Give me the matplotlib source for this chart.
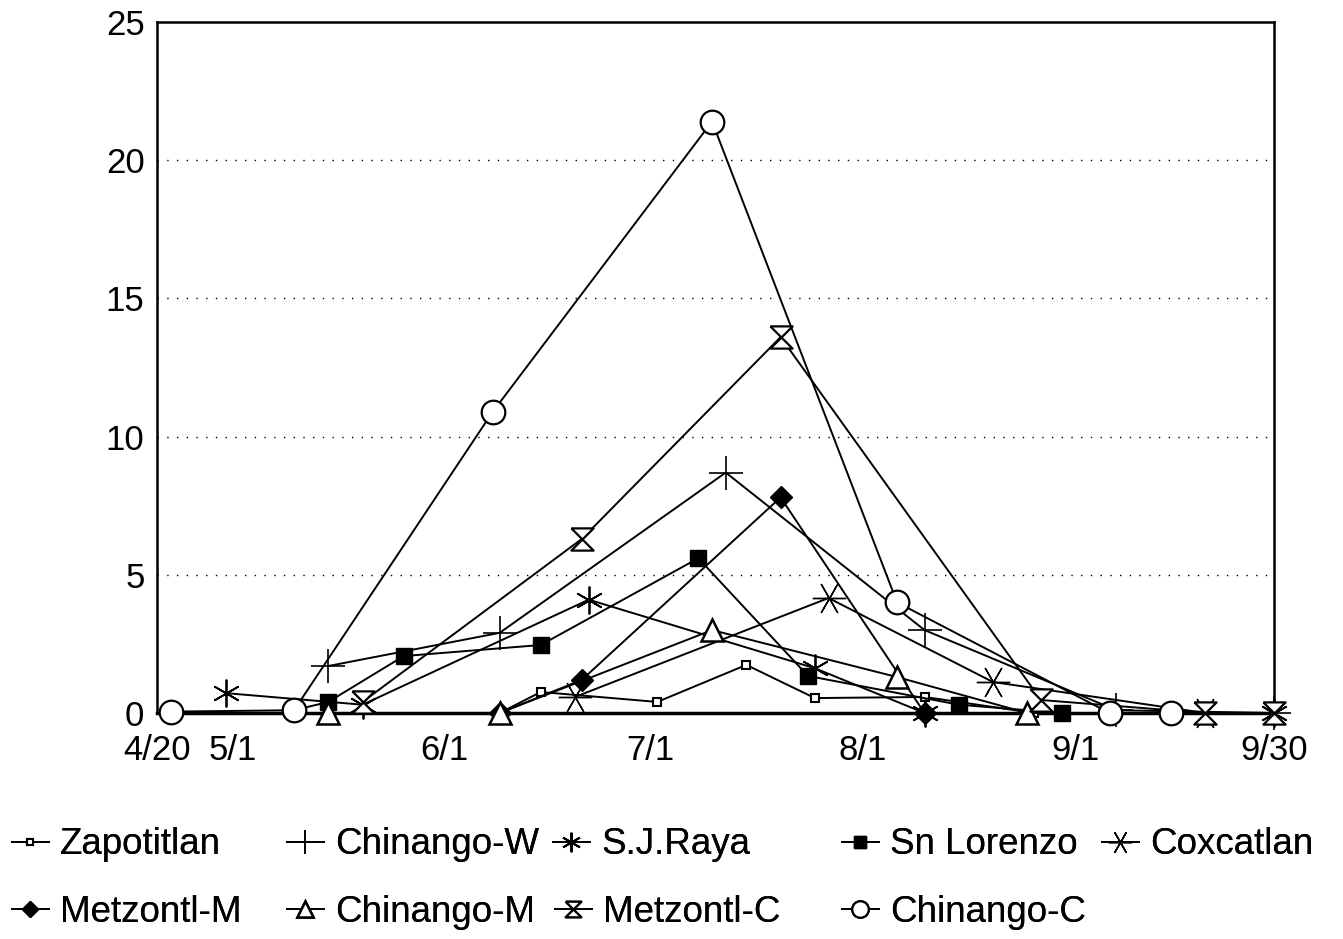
import datetime as dt
import matplotlib
matplotlib.use("Agg")
import matplotlib.pyplot as plt
from matplotlib.path import Path

plt.rcParams['font.family'] = ['Liberation Sans', 'DejaVu Sans']

# sampling dates (m/d) and counts for each site
zap_dates = ["6/9", "6/15", "7/2", "7/15", "7/25", "8/10", "8/26"]
zap_vals = [0.0, 0.76, 0.4, 1.74, 0.54, 0.58, 0.0]

chw_dates = ["5/15", "6/9", "7/12", "8/10", "9/7", "9/30"]
chw_vals = [1.7, 2.9, 8.7, 3.0, 0.1, 0.0]

sjr_dates = ["4/30", "5/20", "6/22", "7/25", "8/10", "9/30"]
sjr_vals = [0.72, 0.3, 4.1, 1.62, 0.0, 0.0]

snl_dates = ["5/10", "5/15", "5/26", "6/15", "7/8", "7/24", "8/15", "8/30"]
snl_vals = [0.1, 0.4, 2.06, 2.46, 5.6, 1.34, 0.3, 0.0]

cox_dates = ["6/20", "7/27", "8/20", "9/20"]
cox_vals = [0.58, 4.16, 1.12, 0.0]

mem_dates = ["6/9", "6/21", "7/20", "8/10"]
mem_vals = [0.0, 1.2, 7.8, 0.0]

chm_dates = ["5/15", "6/9", "7/10", "8/6", "8/25"]
chm_vals = [0.0, 0.0, 3.0, 1.3, 0.0]

mec_dates = ["5/20", "6/21", "7/20", "8/27", "9/20", "9/30"]
mec_vals = [0.4, 6.3, 13.6, 0.47, 0.0, 0.0]

chc_dates = ["4/22", "5/10", "6/8", "7/10", "8/6", "9/6", "9/15"]
chc_vals = [0.05, 0.1, 10.9, 21.4, 4.0, 0.0, 0.0]

tick_dates = ["4/20", "5/1", "6/1", "7/1", "8/1", "9/1", "9/30"]
y_ticks = [0, 5, 10, 15, 20, 25]


def toDate(md):
    m, d = md.split("/")
    return dt.datetime(1990, int(m), int(d))


# hourglass marker
hourglass = Path([(-1, 1), (1, 1), (-1, -1), (1, -1), (-1, 1)],
                 [Path.MOVETO, Path.LINETO, Path.LINETO, Path.LINETO, Path.LINETO])

series = [
    ("Zapotitlan", zap_dates, zap_vals, dict(marker="s", ms=6, mfc="white", mew=1.5)),
    ("Chinango-W", chw_dates, chw_vals, dict(marker="+", ms=24, mew=1.2)),
    ("S.J.Raya", sjr_dates, sjr_vals, dict(marker=(6, 2, 0), ms=20, mew=1.3)),
    ("Sn Lorenzo", snl_dates, snl_vals, dict(marker="s", ms=12, mfc="black")),
    ("Coxcatlan", cox_dates, cox_vals, dict(marker=(6, 2, 30), ms=24, mew=1.0)),
    ("Metzontl-M", mem_dates, mem_vals, dict(marker="D", ms=11, mfc="black")),
    ("Chinango-M", chm_dates, chm_vals, dict(marker="^", ms=16, mfc="white", mew=1.8)),
    ("Metzontl-C", mec_dates, mec_vals, dict(marker=hourglass, ms=16, mfc="white", mew=1.6)),
    ("Chinango-C", chc_dates, chc_vals, dict(marker="o", ms=17, mfc="white", mew=1.6)),
]

W, H = 1343, 939
fig = plt.figure(figsize=(W / 100, H / 100), dpi=100)
ax = fig.add_axes([157 / W, 1 - 713 / H, (1274 - 157) / W, (713 - 22) / H])

handles = {}
for name, dates, vals, style in series:
    x = [toDate(d) for d in dates]
    h, = ax.plot(x, vals, color="black", lw=1.4, mec="black", label=name,
                 clip_on=False, zorder=3, **style)
    handles[name] = h

ax.set_xlim(toDate("4/20"), toDate("9/30"))
ax.set_ylim(0, 25)
ax.set_xticks([toDate(d) for d in tick_dates])
ax.set_xticklabels(tick_dates)
ax.set_yticks(y_ticks)
ax.tick_params(length=0, labelsize=25)
ax.tick_params(axis="x", pad=15)
ax.tick_params(axis="y", pad=9)
for s in ax.spines.values():
    s.set_linewidth(1.8)
ax.spines["bottom"].set_linewidth(2.5)

# dotted reference lines
for v in y_ticks[1:-1]:
    ax.axhline(v, color="black", lw=1.0, ls=(0, (1, 6)), zorder=1)

# key entries laid out in two rows (pixel position of each handle's left end)
key_pos = {
    "Zapotitlan": (12, 845), "Chinango-W": (287, 845), "S.J.Raya": (553, 845),
    "Sn Lorenzo": (842, 845), "Coxcatlan": (1102, 845),
    "Metzontl-M": (12, 912), "Chinango-M": (287, 912), "Metzontl-C": (555, 912),
    "Chinango-C": (842, 912),
}
for name, (px, py) in key_pos.items():
    leg = fig.legend([handles[name]], [name], loc="center left",
                     bbox_to_anchor=(px / W, 1 - py / H), frameon=False,
                     fontsize=26.5, handlelength=1.0, handletextpad=0.3,
                     borderpad=0, borderaxespad=0, markerscale=0.7)
    fig.add_artist(leg)

fig.savefig("out.png", dpi=100)
